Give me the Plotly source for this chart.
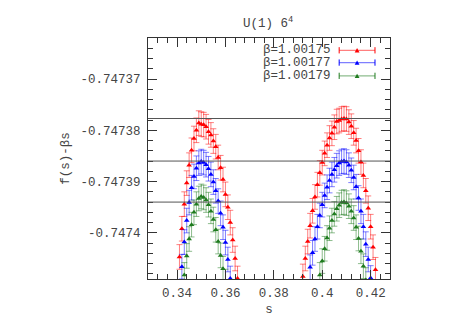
import plotly.graph_objects as go

# s values and f(s)-beta*s for the three couplings (two peaks each)
S_175 = [0.341, 0.342, 0.343, 0.344, 0.345, 0.346, 0.347, 0.348, 0.349, 0.350,
         0.351, 0.352, 0.353, 0.354, 0.355, 0.356, 0.357, 0.358, 0.359, 0.360,
         0.361, 0.362, 0.363, 0.364, 0.365,
         0.392, 0.393, 0.394, 0.395, 0.396, 0.397, 0.398, 0.399, 0.400, 0.401,
         0.402, 0.403, 0.404, 0.405, 0.406, 0.407, 0.408, 0.409, 0.410, 0.411,
         0.412, 0.413, 0.414, 0.415, 0.416, 0.417, 0.418, 0.419, 0.420, 0.421,
         0.422]
F_175 = [-0.7474047, -0.7473992, -0.7473944, -0.7473903, -0.7473868, -0.7473839,
         -0.7473816, -0.7473800, -0.7473786, -0.7473788, -0.7473789, -0.7473793,
         -0.7473803, -0.7473809, -0.7473821, -0.7473832, -0.7473853, -0.7473873,
         -0.7473896, -0.7473925, -0.7473950, -0.7473980, -0.7474014, -0.7474050,
         -0.7474089,
         -0.7474085, -0.7474050, -0.7474017, -0.7473986, -0.7473957, -0.7473930,
         -0.7473906, -0.7473883, -0.7473863, -0.7473845, -0.7473829, -0.7473815,
         -0.7473806, -0.7473794, -0.7473783, -0.7473781, -0.7473778, -0.7473777,
         -0.7473778, -0.7473784, -0.7473792, -0.7473805, -0.7473820, -0.7473840,
         -0.7473862, -0.7473888, -0.7473918, -0.7473952, -0.7473988, -0.7474028,
         -0.7474072]

S_177 = [0.342, 0.343, 0.344, 0.345, 0.346, 0.347, 0.348, 0.349, 0.350, 0.351,
         0.352, 0.353, 0.354, 0.355, 0.356, 0.357, 0.358, 0.359, 0.360, 0.361,
         0.362,
         0.395, 0.396, 0.397, 0.398, 0.399, 0.400, 0.401, 0.402, 0.403, 0.404,
         0.405, 0.406, 0.407, 0.408, 0.409, 0.410, 0.411, 0.412, 0.413, 0.414,
         0.415, 0.416, 0.417, 0.418, 0.419, 0.420]
F_177 = [-0.7474066, -0.7474018, -0.7473976, -0.7473941, -0.7473912, -0.7473890,
         -0.7473874, -0.7473864, -0.7473861, -0.7473863, -0.7473867, -0.7473875,
         -0.7473886, -0.7473901, -0.7473918, -0.7473938, -0.7473962, -0.7473989,
         -0.7474019, -0.7474052, -0.7474089,
         -0.7474067, -0.7474039, -0.7474012, -0.7473988, -0.7473966, -0.7473945,
         -0.7473927, -0.7473911, -0.7473898, -0.7473886, -0.7473877, -0.7473869,
         -0.7473864, -0.7473861, -0.7473860, -0.7473862, -0.7473868, -0.7473878,
         -0.7473892, -0.7473910, -0.7473932, -0.7473958, -0.7473988, -0.7474022,
         -0.7474052, -0.7474088]

S_179 = [0.343, 0.344, 0.345, 0.346, 0.347, 0.348, 0.349, 0.350, 0.351, 0.352,
         0.353, 0.354, 0.355, 0.356, 0.357, 0.358, 0.359, 0.360,
         0.399, 0.400, 0.401, 0.402, 0.403, 0.404, 0.405, 0.406, 0.407, 0.408,
         0.409, 0.410, 0.411, 0.412, 0.413, 0.414, 0.415, 0.416, 0.417, 0.418]
F_179 = [-0.7474082, -0.7474045, -0.7474012, -0.7473984, -0.7473960, -0.7473944,
         -0.7473933, -0.7473929, -0.7473931, -0.7473936, -0.7473945, -0.7473958,
         -0.7473974, -0.7473994, -0.7474017, -0.7474044, -0.7474070, -0.7474095,
         -0.7474082, -0.7474055, -0.7474031, -0.7474010, -0.7473991, -0.7473976,
         -0.7473963, -0.7473953, -0.7473946, -0.7473941, -0.7473940, -0.7473942,
         -0.7473948, -0.7473958, -0.7473971, -0.7473989, -0.7474011, -0.7474036,
         -0.7474065, -0.7474092]

ERR_175 = 2.4e-06
ERR_177 = 2.4e-06
ERR_179 = 2.4e-06

LABELS = ["β=1.00175", "β=1.00177", "β=1.00179"]
COLORS = ["#ff0000", "#0000ff", "#1e7b1e"]
BAR_COLORS = ["rgba(255,0,0,0.5)", "rgba(0,0,255,0.5)", "rgba(30,123,30,0.5)"]

# horizontal reference lines at the peak heights
HLINES = [-0.7473777, -0.7473860, -0.7473940]

X_TICKS = [0.34, 0.36, 0.38, 0.40, 0.42]
X_TICKTEXT = ["0.34", "0.36", "0.38", "0.4", "0.42"]
Y_TICKS = [-0.74737, -0.74738, -0.74739, -0.74740]
Y_TICKTEXT = ["-0.74737", "-0.74738", "-0.74739", "-0.7474"]

FONT = "Liberation Mono, DejaVu Sans Mono, monospace"
TEXT = "#444444"
FRAME = "#333333"

fig = go.Figure()
series = [(S_175, F_175, ERR_175), (S_177, F_177, ERR_177), (S_179, F_179, ERR_179)]
for (s, f, e), name, col, bcol in zip(series, LABELS, COLORS, BAR_COLORS):
    fig.add_trace(go.Scatter(
        x=s, y=f, mode="markers", name=name, showlegend=False,
        marker={"symbol": "triangle-up", "size": 5, "color": col},
        error_y={"type": "constant", "value": e, "color": bcol,
                 "thickness": 1, "width": 3},
        cliponaxis=True,
    ))

for h in HLINES:
    fig.add_shape(type="line", xref="paper", x0=0, x1=1, yref="y", y0=h, y1=h,
                  line={"color": "#555555", "width": 1})

# legend drawn by hand: text on the left, sample error bar on the right
leg_y = [0.949, 0.898, 0.843]
for name, col, bcol, yy in zip(LABELS, COLORS, BAR_COLORS, leg_y):
    fig.add_annotation(text=name, xref="paper", yref="paper", x=0.765, y=yy,
                       xanchor="right", yanchor="middle", showarrow=False,
                       font={"family": FONT, "size": 12.5, "color": TEXT})
    fig.add_shape(type="line", xref="paper", yref="paper", x0=0.79, x1=0.938,
                  y0=yy, y1=yy, line={"color": bcol, "width": 1.2})
    for xx in (0.79, 0.938):
        fig.add_shape(type="line", xref="paper", yref="paper", x0=xx, x1=xx,
                      y0=yy - 0.013, y1=yy + 0.013, line={"color": col, "width": 1})
    tx, dx, dy = 0.864, 0.010, 0.009
    fig.add_shape(type="path", xref="paper", yref="paper",
                  path=f"M {tx - dx},{yy - dy} L {tx + dx},{yy - dy} L {tx},{yy + dy} Z",
                  fillcolor=col, line={"color": col, "width": 0})

axis_common = dict(
    showline=True, linecolor=FRAME, linewidth=1, mirror="allticks",
    ticks="inside", ticklen=9, tickcolor=FRAME, tickwidth=1,
    showgrid=False, zeroline=False, automargin=False,
    tickfont={"family": FONT, "size": 12.5, "color": TEXT},
)

fig.update_xaxes(
    range=[0.328, 0.428], tickmode="array", tickvals=X_TICKS, ticktext=X_TICKTEXT,
    minor={"dtick": 0.004, "tick0": 0.34, "ticks": "inside", "ticklen": 5,
           "tickcolor": FRAME, "showgrid": False},
    ticklabelstandoff=2,
    title={"text": "s", "font": {"family": FONT, "size": 12.5, "color": TEXT},
           "standoff": 4},
    **axis_common,
)
fig.update_yaxes(
    range=[-0.747409, -0.747362], tickmode="array", tickvals=Y_TICKS, ticktext=Y_TICKTEXT,
    minor={"dtick": 2e-06, "tick0": -0.7474, "ticks": "inside", "ticklen": 5,
           "tickcolor": FRAME, "showgrid": False},
    ticklabelstandoff=4,
    title={"text": "f(s)-βs", "font": {"family": FONT, "size": 12.5, "color": TEXT},
           "standoff": 8},
    **axis_common,
)

# the page body adds an 8px offset, so margins are shifted to compensate
fig.update_layout(
    width=457, height=320,
    margin={"l": 140, "r": 75, "t": 30, "b": 49},
    paper_bgcolor="white", plot_bgcolor="white",
    title={"text": "U(1) 6<sup>4</sup>", "x": 0.569, "xanchor": "center",
           "y": 0.955, "yanchor": "middle",
           "font": {"family": FONT, "size": 12.5, "color": TEXT}},
    showlegend=False,
)

fig.write_html("out.html")
